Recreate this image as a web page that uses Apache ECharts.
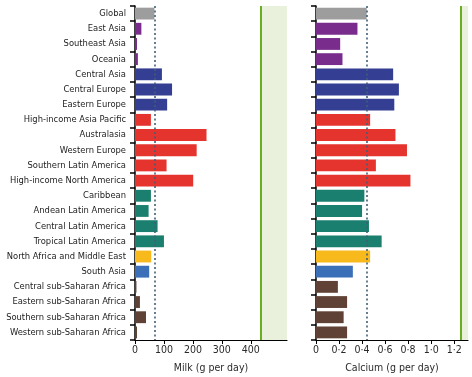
<!DOCTYPE html>
<html>
<head>
<meta charset="utf-8">
<script src="https://cdn.jsdelivr.net/npm/echarts@6/dist/echarts.min.js"></script>
<style>
  html, body { margin: 0; padding: 0; background: #fff; }
  #chart { width: 472px; height: 377px; }
</style>
</head>
<body>
<div id="chart"></div>
<script>
const regions = [
    'Global', 'East Asia', 'Southeast Asia', 'Oceania',
    'Central Asia', 'Central Europe', 'Eastern Europe',
    'High-income Asia Pacific', 'Australasia', 'Western Europe',
    'Southern Latin America', 'High-income North America',
    'Caribbean', 'Andean Latin America', 'Central Latin America', 'Tropical Latin America',
    'North Africa and Middle East', 'South Asia',
    'Central sub-Saharan Africa', 'Eastern sub-Saharan Africa',
    'Southern sub-Saharan Africa', 'Western sub-Saharan Africa'
];
// super-region of each row (picks the bar colour)
const superRegion = [
    'global', 'seao', 'seao', 'seao',
    'ceeca', 'ceeca', 'ceeca',
    'hi', 'hi', 'hi', 'hi', 'hi',
    'lac', 'lac', 'lac', 'lac',
    'name', 'sa',
    'ssa', 'ssa', 'ssa', 'ssa'
];
const milk = [67, 22, 7, 10, 93, 128, 111, 55, 247, 213, 109, 201, 55, 47, 78, 100, 56, 49, 5, 17, 38, 7];
const calcium = [0.44, 0.36, 0.21, 0.23, 0.67, 0.72, 0.68, 0.47, 0.69, 0.79, 0.52, 0.82, 0.42, 0.40, 0.46, 0.57, 0.47, 0.32, 0.19, 0.27, 0.24, 0.27];

const milkGlobal = 68;
const milkOptimal = [435, 525];
const calciumGlobal = 0.44;
const calciumOptimal = [1.26, 1.32];
const milkTicks = [0, 100, 200, 300, 400];
const calciumTicks = [0, 0.2, 0.4, 0.6, 0.8, 1.0, 1.2];

const colors = {
    global: '#9d9d9d',
    seao: '#7a2c8c',
    ceeca: '#343f93',
    hi: '#e5332e',
    lac: '#1b7f6f',
    name: '#f8b91d',
    sa: '#3b6fb7',
    ssa: '#5f4135'
};

const font = "'Liberation Sans Narrow', 'DejaVu Sans Condensed', sans-serif";

function barData(values) {
    return values.map((v, i) => ({
        value: v,
        itemStyle: { color: colors[superRegion[i]] }
    }));
}

function xAxis(idx, max, ticks, name, fmt) {
    return {
        gridIndex: idx,
        type: 'value',
        min: 0,
        max: max,
        name: name,
        nameLocation: 'middle',
        nameGap: 23,
        nameTextStyle: { fontFamily: font, fontSize: 10.5, color: '#2a2a2a' },
        splitLine: { show: false },
        axisLine: { show: true, lineStyle: { color: '#000', width: 1.2 } },
        axisTick: { show: true, length: 4, customValues: ticks, lineStyle: { color: '#000' } },
        axisLabel: {
            customValues: ticks,
            fontFamily: font, fontSize: 10.5, color: '#2a2a2a', margin: 5,
            formatter: fmt
        }
    };
}

function yAxis(idx, showLabels) {
    return {
        gridIndex: idx,
        type: 'category',
        data: regions,
        inverse: true,
        axisLine: { show: true, lineStyle: { color: '#000', width: 1.5 } },
        axisTick: { show: true, length: 5, lineStyle: { color: '#000', width: 1.5 } },
        axisLabel: {
            show: showLabels,
            interval: 0,
            fontFamily: font, fontSize: 9.3, color: '#222', margin: 9
        }
    };
}

function refLines(globalVal, optimal) {
    return {
        markLine: {
            silent: true,
            symbol: 'none',
            label: { show: false },
            data: [
                { xAxis: globalVal, lineStyle: { color: '#3f5f75', type: [2, 2.5], width: 1.6 } },
                { xAxis: optimal[0], lineStyle: { color: '#6aaf22', type: 'solid', width: 2 } }
            ]
        },
        markArea: {
            silent: true,
            itemStyle: { color: '#e9f1dd' },
            data: [[{ xAxis: optimal[0] }, { xAxis: optimal[1] }]]
        }
    };
}

const chart = echarts.init(document.getElementById('chart'));
chart.setOption({
    animation: false,
    grid: [
        { left: 135, top: 6, width: 152, height: 334, containLabel: false, outerBoundsMode: 'none' },
        { left: 316, top: 6, width: 152, height: 334, containLabel: false, outerBoundsMode: 'none' }
    ],
    xAxis: [
        xAxis(0, milkOptimal[1], milkTicks, 'Milk (g per day)', v => String(v)),
        xAxis(1, calciumOptimal[1], calciumTicks, 'Calcium (g per day)',
            v => v === 0 ? '0' : v.toFixed(1).replace('.', '·'))
    ],
    yAxis: [yAxis(0, true), yAxis(1, false)],
    series: [
        Object.assign({
            type: 'bar',
            xAxisIndex: 0,
            yAxisIndex: 0,
            data: barData(milk),
            barCategoryGap: '22%'
        }, refLines(milkGlobal, milkOptimal)),
        Object.assign({
            type: 'bar',
            xAxisIndex: 1,
            yAxisIndex: 1,
            data: barData(calcium),
            barCategoryGap: '22%'
        }, refLines(calciumGlobal, calciumOptimal))
    ]
});
</script>
</body>
</html>
